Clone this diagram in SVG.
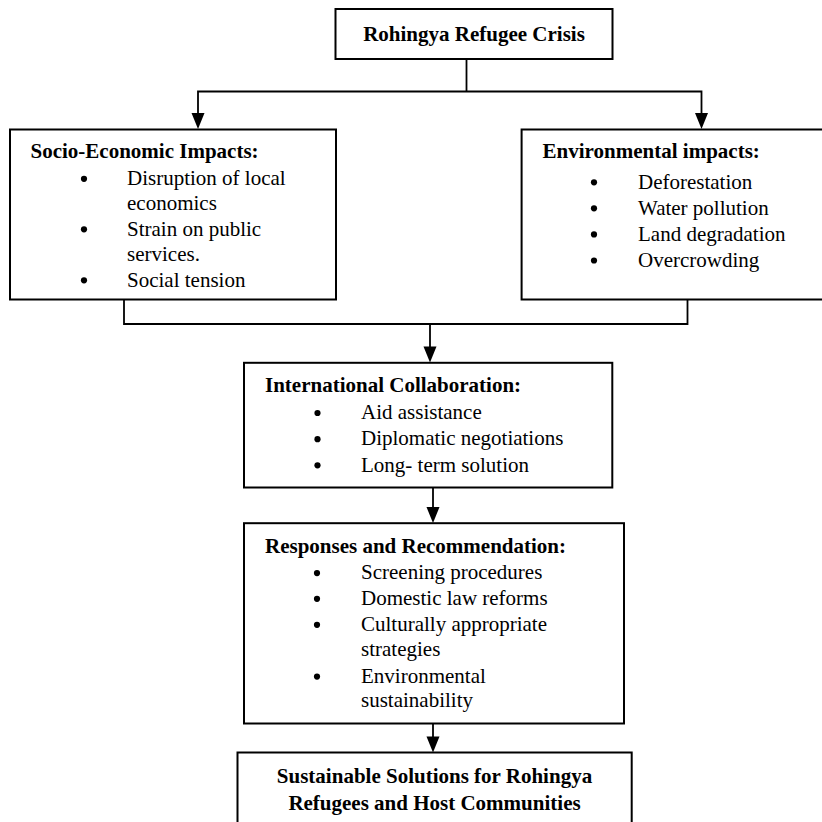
<svg xmlns="http://www.w3.org/2000/svg" width="822" height="822" viewBox="0 0 822 822">
<style>
.box{fill:#fff;stroke:#000;stroke-width:2}
.t{font-family:"Liberation Serif","Times New Roman",serif;font-size:21px;fill:#000}
.b{font-weight:bold}
.c{text-anchor:middle}
.ln{fill:none;stroke:#000;stroke-width:1.8}
.ah{fill:#000}
</style>
<defs>
<circle id="dot" r="3.1" fill="#000"/>
</defs>
<rect width="822" height="822" fill="#fff"/>
<g id="connectors">
<polyline class="ln" points="466.5,59 466.5,91.5"/>
<polyline class="ln" points="198,113 198,91.5 701.5,91.5 701.5,113"/>
<polygon class="ah" points="191.5,113 204.5,113 198,129"/>
<polygon class="ah" points="695,113 708,113 701.5,129"/>
<polyline class="ln" points="124,298 124,324 687.5,324 687.5,297"/>
<polyline class="ln" points="430,324 430,347"/>
<polygon class="ah" points="423.5,346.5 436.5,346.5 430,362.5"/>
<polyline class="ln" points="433,487 433,507"/>
<polygon class="ah" points="426.5,507 439.5,507 433,523"/>
<polyline class="ln" points="433,723 433,737"/>
<polygon class="ah" points="426.5,736.5 439.5,736.5 433,752.5"/>
</g>
<g id="crisis">
<rect class="box" x="335.5" y="9" width="277" height="50"/>
<text class="t b c" x="474" y="40.5">Rohingya Refugee Crisis</text>
</g>
<g id="socio">
<rect class="box" x="10" y="129.5" width="326" height="170"/>
<text class="t b" x="30.5" y="158.3">Socio-Economic Impacts:</text>
<use href="#dot" x="84" y="178.8"/>
<text class="t" x="127" y="185">Disruption of local</text>
<text class="t" x="127" y="210">economics</text>
<use href="#dot" x="84" y="229.3"/>
<text class="t" x="127" y="235.5">Strain on public</text>
<text class="t" x="127" y="261">services.</text>
<use href="#dot" x="84" y="280.3"/>
<text class="t" x="127" y="286.5">Social tension</text>
</g>
<g id="environmental">
<rect class="box" x="521.6" y="129.5" width="310" height="170"/>
<text class="t b" x="542.6" y="158.3">Environmental impacts:</text>
<use href="#dot" x="594" y="182.3"/>
<text class="t" x="638" y="188.5">Deforestation</text>
<use href="#dot" x="594" y="208.3"/>
<text class="t" x="638" y="214.5">Water pollution</text>
<use href="#dot" x="594" y="234.4"/>
<text class="t" x="638" y="240.6">Land degradation</text>
<use href="#dot" x="594" y="260.5"/>
<text class="t" x="638" y="266.7">Overcrowding</text>
</g>
<g id="international">
<rect class="box" x="244" y="362.8" width="368.3" height="124.7"/>
<text class="t b" x="265" y="391.8">International Collaboration:</text>
<use href="#dot" x="317.5" y="413"/>
<text class="t" x="361" y="419.2">Aid assistance</text>
<use href="#dot" x="317.5" y="439.2"/>
<text class="t" x="361" y="445.4">Diplomatic negotiations</text>
<use href="#dot" x="317.5" y="465.3"/>
<text class="t" x="361" y="471.5">Long- term solution</text>
</g>
<g id="responses">
<rect class="box" x="244" y="523.2" width="380" height="200.3"/>
<text class="t b" x="265" y="553.3">Responses and Recommendation:</text>
<use href="#dot" x="317" y="573.1"/>
<text class="t" x="361" y="579.3">Screening procedures</text>
<use href="#dot" x="317" y="598.8"/>
<text class="t" x="361" y="605">Domestic law reforms</text>
<use href="#dot" x="317" y="624.8"/>
<text class="t" x="361" y="631">Culturally appropriate</text>
<text class="t" x="361" y="656">strategies</text>
<use href="#dot" x="317" y="676.6"/>
<text class="t" x="361" y="682.8">Environmental</text>
<text class="t" x="361" y="707.3">sustainability</text>
</g>
<g id="solutions">
<rect class="box" x="237.5" y="752.5" width="394.2" height="80"/>
<text class="t b c" x="434.5" y="782.7">Sustainable Solutions for Rohingya</text>
<text class="t b c" x="434.5" y="810">Refugees and Host Communities</text>
</g>
</svg>
